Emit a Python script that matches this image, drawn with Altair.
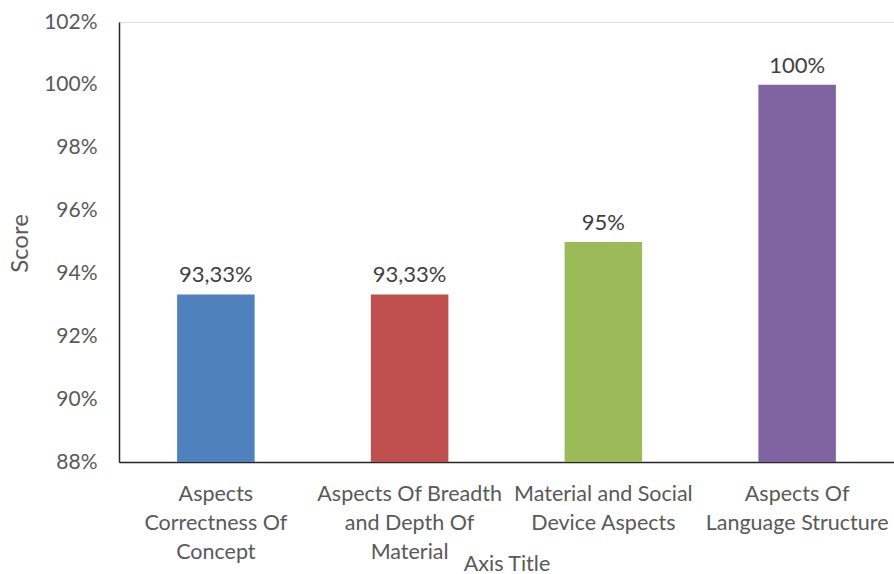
import altair as alt
import pandas as pd

categories = [
    "Aspects Correctness Of Concept",
    "Aspects Of Breadth and Depth Of Material",
    "Material and Social Device Aspects",
    "Aspects Of Language Structure",
]
label_lines = [
    ["Aspects", "Correctness Of", "Concept"],
    ["Aspects Of Breadth", "and Depth Of", "Material"],
    ["Material and Social", "Device Aspects"],
    ["Aspects Of", "Language Structure"],
]
scores = [0.9333, 0.9333, 0.95, 1.00]
score_text = ["93,33%", "93,33%", "95%", "100%"]
colors = ["#4F81BD", "#C0504D", "#9BBB59", "#8064A2"]
y_min, y_max = 0.88, 1.02

df = pd.DataFrame({"cat": categories, "score": scores, "txt": score_text})

expr_parts = []
for c, lines in zip(categories, label_lines):
    arr = "[" + ",".join("'" + l + "'" for l in lines) + "]"
    expr_parts.append(f"datum.label == '{c}' ? {arr}")
label_expr = " : ".join(expr_parts) + " : datum.label"

FONT = "Lato"

x = alt.X(
    "cat:N",
    sort=categories,
    scale=alt.Scale(paddingInner=0.6, paddingOuter=0.3),
    axis=alt.Axis(
        title="Axis Title",
        labelExpr=label_expr,
        labelAngle=0,
        labelFont=FONT,
        labelFontSize=21.5,
        labelColor="#595959",
        labelLineHeight=29,
        labelPadding=21,
        labelLimit=300,
        ticks=False,
        domainColor="#262626",
        domainWidth=1.5,
        titleFont=FONT,
        titleFontSize=21.5,
        titleFontWeight="normal",
        titleColor="#595959",
        titleY=108,
        titleBaseline="alphabetic",
    ),
)

bars = alt.Chart(df).mark_bar(clip=False).encode(
    x=x,
    y=alt.Y(
        "score:Q",
        scale=alt.Scale(domain=[y_min, y_max], zero=False, nice=False),
        axis=alt.Axis(
            title="Score",
            format=".0%",
            values=[0.88, 0.90, 0.92, 0.94, 0.96, 0.98, 1.00, 1.02],
            grid=False,
            ticks=False,
            labelFont=FONT,
            labelFontSize=21,
            labelColor="#595959",
            labelPadding=22,
            domainColor="#262626",
            domainWidth=1.5,
            titleFont=FONT,
            titleFontSize=24,
            titleFontWeight="normal",
            titleColor="#595959",
            titleX=-99,
            titleY=221,
            titleAngle=-90,
            titleBaseline="middle",
            titleAlign="center",
        ),
    ),
    y2=alt.datum(y_min),
    color=alt.Color("cat:N", sort=categories,
                    scale=alt.Scale(domain=categories, range=colors), legend=None),
)

labels = alt.Chart(df).mark_text(
    font=FONT, fontSize=22, color="#404040", baseline="alphabetic", dy=-12
).encode(
    x=alt.X("cat:N", sort=categories),
    y=alt.Y("score:Q"),
    text="txt:N",
)

chart = alt.layer(bars, labels).properties(
    width=775,
    height=440,
    padding={"left": 119, "top": 22, "right": 0, "bottom": 112},
    autosize=alt.AutoSizeParams(type="none"),
).configure_view(stroke=None).configure(background="white")

chart.save("out.html", embed_options={"renderer": "svg", "actions": False})
